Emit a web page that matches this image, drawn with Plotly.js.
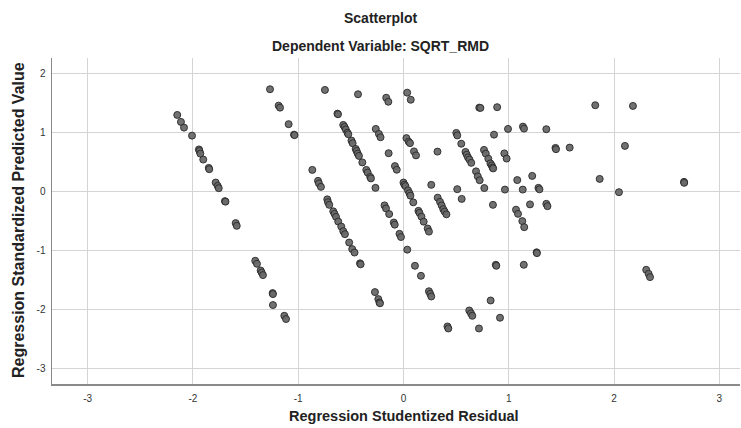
<!DOCTYPE html>
<html>
<head>
<meta charset="utf-8">
<script src="https://cdn.plot.ly/plotly-3.0.1.min.js"></script>
<style>html,body{margin:0;padding:0;background:#fff;}#chart{width:741px;height:428px;}</style>
</head>
<body>
<div id="chart"></div>
<script>
// Regression Studentized Residual (x)
const studentizedResidual = [
 -2.149,-2.114,-2.085,-2.009,-1.943,-1.938,-1.930,-1.902,-1.850,-1.845,-1.784,-1.765,-1.755,-1.696,-1.691,-1.594,-1.584,
 -1.408,-1.392,-1.357,-1.347,-1.335,-1.243,-1.240,-1.240,-1.132,-1.116,
 -1.268,-1.186,-1.173,-1.091,-1.040,-1.035,
 -0.866,-0.812,-0.803,-0.784,-0.724,-0.717,-0.705,-0.667,-0.655,-0.641,-0.620,-0.591,-0.572,-0.556,-0.516,-0.487,-0.465,-0.413,-0.407,
 -0.746,-0.627,-0.622,-0.572,-0.560,-0.548,-0.532,-0.524,-0.494,-0.483,-0.454,-0.445,-0.435,-0.423,-0.391,-0.353,-0.340,-0.316,-0.309,-0.266,
 -0.432,-0.164,-0.144,-0.263,-0.233,-0.218,-0.141,-0.081,-0.064,-0.271,-0.239,-0.228,-0.223,
 -0.180,-0.166,-0.136,-0.092,-0.083,-0.038,-0.024,0.036,0.109,0.166,
 0.035,0.069,0.028,0.050,0.062,0.100,0.119,0.323,
 0.000,0.009,0.019,0.043,0.057,0.066,0.093,0.142,0.152,0.171,0.192,0.230,0.242,0.264,0.242,0.254,0.264,0.418,0.426,
 0.325,0.347,0.363,0.378,0.391,0.408,0.553,0.511,0.502,0.511,0.549,
 0.589,0.601,0.613,0.627,0.644,0.689,0.706,0.724,0.720,0.731,0.890,
 0.765,0.782,0.806,0.826,0.839,0.847,0.852,0.768,0.860,0.958,0.980,0.964,0.993,1.081,1.133,1.135,1.145,1.223,1.282,1.292,1.357,
 0.850,1.069,1.088,1.129,1.147,1.202,1.357,1.368,1.444,1.449,1.579,1.265,1.268,0.877,0.882,1.143,0.828,0.625,0.641,0.654,0.917,0.717,
 1.822,2.180,2.104,1.864,2.047,2.665,2.667,2.306,2.329,2.342
];
// Regression Standardized Predicted Value (y)
const standardizedPredicted = [
 1.293,1.175,1.078,0.942,0.708,0.683,0.637,0.536,0.395,0.373,0.146,0.090,0.051,-0.169,-0.178,-0.542,-0.588,
 -1.181,-1.232,-1.346,-1.380,-1.424,-1.729,-1.746,-1.932,-2.114,-2.169,
 1.729,1.451,1.417,1.137,0.959,0.951,
 0.361,0.175,0.132,0.073,-0.139,-0.186,-0.232,-0.342,-0.385,-0.436,-0.515,-0.600,-0.678,-0.729,-0.871,-0.983,-1.041,-1.224,-1.241,
 1.717,1.315,1.305,1.124,1.090,1.047,0.992,0.966,0.858,0.814,0.717,0.683,0.637,0.598,0.488,0.361,0.315,0.242,0.217,0.056,
 1.644,1.585,1.517,1.056,0.971,0.915,0.644,0.425,0.364,-1.712,-1.831,-1.888,-1.902,
 -0.241,-0.292,-0.388,-0.532,-0.568,-0.724,-0.778,-0.992,-1.266,-1.436,
 1.671,1.551,0.900,0.839,0.815,0.675,0.607,0.671,
 0.146,0.110,0.086,0.014,-0.034,-0.076,-0.190,-0.334,-0.368,-0.432,-0.517,-0.634,-0.686,0.107,-1.698,-1.741,-1.786,-2.295,-2.329,
 -0.110,-0.181,-0.241,-0.305,-0.346,-0.393,-0.131,0.034,0.988,0.946,0.805,
 0.666,0.619,0.573,0.536,0.480,0.336,0.251,0.186,1.417,1.412,1.425,
 0.700,0.637,0.551,0.471,0.437,0.400,0.386,0.053,0.959,0.641,0.553,0.027,1.056,0.188,0.027,1.095,1.061,0.259,0.056,0.031,1.051,
 -0.232,-0.314,-0.385,-0.508,-0.610,-0.224,-0.215,-0.254,0.734,0.712,0.739,-1.037,-1.051,-1.249,-1.266,-1.249,-1.854,-2.024,-2.071,-2.114,-2.147,-2.329,
 1.458,1.446,0.768,0.208,-0.017,0.158,0.141,-1.334,-1.402,-1.458
];
const xTickVals = [-3,-2,-1,0,1,2,3];
const xTickText = ["-3","-2","-1","0","1","2","3"];
const yTickVals = [-3,-2,-1,0,1,2];
const yTickText = ["-3","-2","-1","0","1","2"];

const chartTitle = "Scatterplot";
const chartSubtitle = "Dependent Variable: SQRT_RMD";
const xTitle = "Regression Studentized Residual";
const yTitle = "Regression Standardized Predicted Value";

const FONT = '"Liberation Sans", Arial, sans-serif';

const trace = {
  x: studentizedResidual,
  y: standardizedPredicted,
  type: 'scatter',
  mode: 'markers',
  marker: {
    size: 7,
    color: 'rgba(105,105,105,0.95)',
    line: {color: 'rgba(40,40,40,0.9)', width: 1}
  },
  hoverinfo: 'skip'
};

const layout = {
  width: 741,
  height: 428,
  margin: {l: 52, r: 1, t: 58, b: 44, pad: 0},
  paper_bgcolor: '#ffffff',
  plot_bgcolor: '#ffffff',
  showlegend: false,
  font: {family: FONT, size: 10, color: '#333'},
  xaxis: {
    range: [-3.339, 3.197],
    tickvals: xTickVals,
    ticktext: xTickText,
    showgrid: true,
    gridcolor: '#d4d4d4',
    gridwidth: 1,
    zeroline: false,
    showline: true,
    linecolor: '#8a8a8a',
    linewidth: 1.5,
    ticks: '',
    tickfont: {family: FONT, size: 10, color: '#333'},
    ticklabelstandoff: 4,
    fixedrange: true
  },
  yaxis: {
    range: [-3.271, 2.259],
    tickvals: yTickVals,
    ticktext: yTickText,
    showgrid: true,
    gridcolor: '#d4d4d4',
    gridwidth: 1,
    zeroline: false,
    showline: true,
    linecolor: '#8a8a8a',
    linewidth: 1.5,
    ticks: '',
    tickfont: {family: FONT, size: 10, color: '#333'},
    ticklabelstandoff: 3,
    fixedrange: true
  },
  annotations: [
    {text: '<b>' + chartTitle + '</b>', xref: 'paper', yref: 'paper', x: 0.477, y: (384 - 18) / 326,
     xanchor: 'center', yanchor: 'middle', showarrow: false, font: {family: FONT, size: 14, color: '#222'}},
    {text: '<b>' + chartSubtitle + '</b>', xref: 'paper', yref: 'paper', x: 0.477, y: (384 - 46) / 326,
     xanchor: 'center', yanchor: 'middle', showarrow: false, font: {family: FONT, size: 14, color: '#222'}},
    {text: '<b>' + xTitle + '</b>', xref: 'paper', yref: 'paper', x: (404 - 52) / 688, y: (384 - 416) / 326,
     xanchor: 'center', yanchor: 'middle', showarrow: false, font: {family: FONT, size: 14.5, color: '#222'}},
    {text: '<b>' + yTitle + '</b>', xref: 'paper', yref: 'paper', x: (18 - 52) / 688, y: (384 - 220) / 326,
     xanchor: 'center', yanchor: 'middle', textangle: -90, showarrow: false, font: {family: FONT, size: 16, color: '#222'}}
  ]
};

Plotly.newPlot('chart', [trace], layout, {displayModeBar: false, staticPlot: true});
</script>
</body>
</html>
